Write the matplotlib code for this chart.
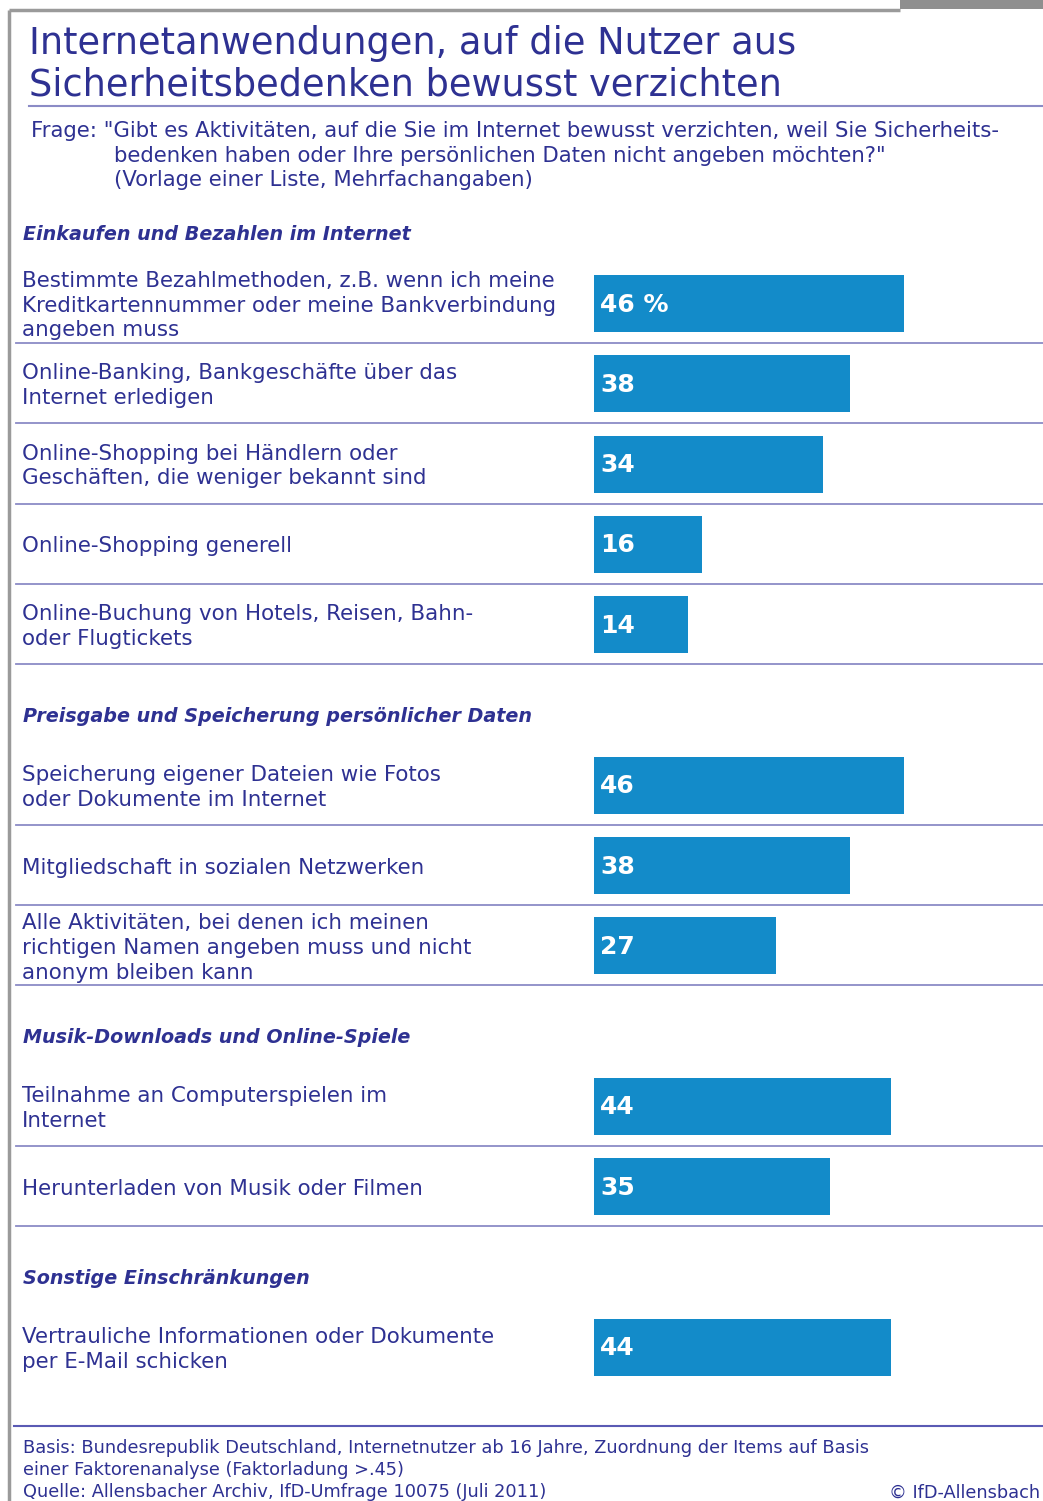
import matplotlib.pyplot as plt
from matplotlib.patches import Rectangle

# --- data ---
groups = [
    "Einkaufen und Bezahlen im Internet",
    "Preisgabe und Speicherung persönlicher Daten",
    "Musik-Downloads und Online-Spiele",
    "Sonstige Einschränkungen",
]
group_of_item = [0, 0, 0, 0, 0, 1, 1, 1, 2, 2, 3]
labels = [
    "Bestimmte Bezahlmethoden, z.B. wenn ich meine\nKreditkartennummer oder meine Bankverbindung\nangeben muss",
    "Online-Banking, Bankgeschäfte über das\nInternet erledigen",
    "Online-Shopping bei Händlern oder\nGeschäften, die weniger bekannt sind",
    "Online-Shopping generell",
    "Online-Buchung von Hotels, Reisen, Bahn-\noder Flugtickets",
    "Speicherung eigener Dateien wie Fotos\noder Dokumente im Internet",
    "Mitgliedschaft in sozialen Netzwerken",
    "Alle Aktivitäten, bei denen ich meinen\nrichtigen Namen angeben muss und nicht\nanonym bleiben kann",
    "Teilnahme an Computerspielen im\nInternet",
    "Herunterladen von Musik oder Filmen",
    "Vertrauliche Informationen oder Dokumente\nper E-Mail schicken",
]
values = [46, 38, 34, 16, 14, 46, 38, 27, 44, 35, 44]

title = "Internetanwendungen, auf die Nutzer aus\nSicherheitsbedenken bewusst verzichten"
frage_1 = 'Frage: "Gibt es Aktivitäten, auf die Sie im Internet bewusst verzichten, weil Sie Sicherheits-'
frage_2 = 'bedenken haben oder Ihre persönlichen Daten nicht angeben möchten?"\n(Vorlage einer Liste, Mehrfachangaben)'
footer = ("Basis: Bundesrepublik Deutschland, Internetnutzer ab 16 Jahre, Zuordnung der Items auf Basis\n"
          "einer Faktorenanalyse (Faktorladung >.45)\n"
          "Quelle: Allensbacher Archiv, IfD-Umfrage 10075 (Juli 2011)")

navy = "#2e3192"
bar_col = "#138bc9"
sep_col = "#8b8bc6"
frame_col = "#9a9a9a"

W, H = 1043, 1501
fig = plt.figure(figsize=(W / 100, H / 100), dpi=100)
plt.rcParams["font.family"] = ["DejaVu Sans"]

bg = fig.add_axes([0, 0, 1, 1])
bg.set_xlim(0, W)
bg.set_ylim(H, 0)
bg.axis("off")

# frame and tab
bg.plot([9, 900], [10, 10], color=frame_col, lw=2.5, solid_capstyle="butt")
bg.plot([9, 9], [10, H], color=frame_col, lw=2.5, solid_capstyle="butt")
bg.add_patch(Rectangle((900, 0), 143, 9, color="#8f8f8f", lw=0))
bg.text(915, -5, "Schaubild 7", color="white", fontsize=14, fontweight="bold", va="center")

# title / question
bg.text(29, 64, title, color=navy, fontsize=26.5, va="center", linespacing=1.15)
bg.plot([29, W], [106, 106], color=sep_col, lw=1.5)
bg.text(31, 131, frage_1, color=navy, fontsize=15.3, va="center")
bg.text(114, 168, frage_2, color=navy, fontsize=15.3, va="center", linespacing=1.3)

# row layout
pitch = 80.3
first = 303.5
slots = []
header_slots = []
s = -1
for g in range(len(groups)):
    header_slots.append(s)
    s += 1
    for i, gi in enumerate(group_of_item):
        if gi == g:
            slots.append(s)
            s += 1
centers = [first + pitch * k for k in slots]

for g, hs in enumerate(header_slots):
    bg.text(23, first + pitch * hs + 11, groups[g], color=navy, fontsize=13.8,
            fontweight="bold", style="italic", va="center")

for i, (lab, c) in enumerate(zip(labels, centers)):
    bg.text(22, c + 2, lab, color=navy, fontsize=15.4, va="center", linespacing=1.3)
    if i < len(labels) - 1:
        bg.plot([16, W], [c + 39.5, c + 39.5], color=sep_col, lw=1.3)

bg.plot([14, W], [1426, 1426], color="#5a5ab4", lw=1.5)
bg.text(23, 1470, footer, color=navy, fontsize=12.8, va="center", linespacing=1.3)
bg.text(1040, 1493, "© IfD-Allensbach", color=navy, fontsize=12.8, va="center", ha="right")

# bars
bar_left = 594
px_per_unit = 310 / 46
ax = fig.add_axes([bar_left / W, 0, (W - bar_left) / W, 1])
ax.set_xlim(0, (W - bar_left) / px_per_unit)
ax.set_ylim(H, 0)
ax.axis("off")
ax.barh(centers, values, height=57, color=bar_col, lw=0)
for i, (v, c) in enumerate(zip(values, centers)):
    txt = f"{v} %" if i == 0 else str(v)
    ax.text(0.9, c + 1, txt, color="white", fontsize=18, fontweight="bold", va="center")

fig.savefig("out.png", dpi=100)
